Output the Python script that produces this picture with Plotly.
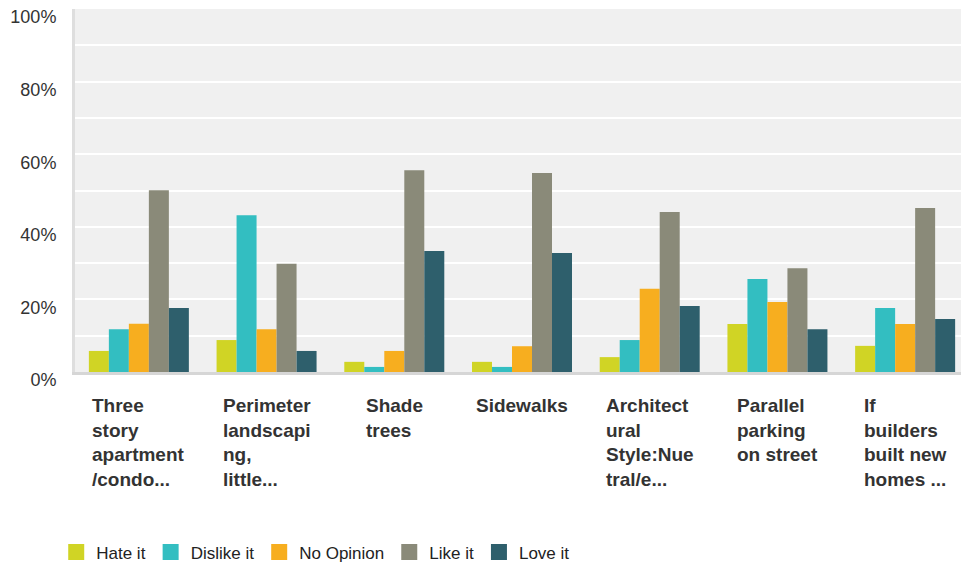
import plotly.graph_objects as go

categories = [
    "Three<br>story<br>apartment<br>/condo...",
    "Perimeter<br>landscapi<br>ng,<br>little...",
    "Shade<br>trees",
    "Sidewalks",
    "Architect<br>ural<br>Style:Nue<br>tral/e...",
    "Parallel<br>parking<br>on street",
    "If<br>builders<br>built new<br>homes ...",
]

series_names = ["Hate it", "Dislike it", "No Opinion", "Like it", "Love it"]
hate_it = [5.8, 8.8, 2.8, 2.8, 4.1, 13.2, 7.2]
dislike_it = [11.8, 43.2, 1.4, 1.4, 8.8, 25.6, 17.6]
no_opinion = [13.3, 11.8, 5.8, 7.1, 22.9, 19.3, 13.2]
like_it = [50.1, 29.8, 55.6, 54.8, 44.1, 28.6, 45.2]
love_it = [17.6, 5.8, 33.3, 32.8, 18.2, 11.8, 14.6]
series_values = [hate_it, dislike_it, no_opinion, like_it, love_it]
colors = ["#D0D425", "#33BEC1", "#F7AE1F", "#8A8A79", "#2E5F6C"]

y_tickvals = [0, 20, 40, 60, 80, 100]
y_ticktext = ["0%", "20%", "40%", "60%", "80%", "100%"]

fig = go.Figure()
for name, vals, col in zip(series_names, series_values, colors):
    fig.add_trace(go.Bar(x=categories, y=vals, name=name, marker_color=col,
                         marker_line_width=0, showlegend=False))
# legend entries
for name, col in zip(series_names, colors):
    fig.add_trace(go.Scatter(x=[None], y=[None], mode="markers", name=name,
                             marker=dict(symbol="square", size=16, color=col)))

for cat in categories:
    fig.add_annotation(x=cat, y=0, xref="x", yref="paper", yanchor="top",
                       xanchor="center", align="left", yshift=-21,
                       text="<b>" + cat + "</b>", showarrow=False,
                       font=dict(family="Liberation Sans, Arial", size=19, color="#333333"))

# page body has an 8px margin: figure is sized/offset to land on the 969x565 window
fig.update_layout(
    width=961, height=557,
    margin=dict(l=67, r=0, t=1, b=193, autoexpand=False),
    paper_bgcolor="white", plot_bgcolor="#F0F0F0",
    barmode="group", bargap=0.217, bargroupgap=0,
    font=dict(family="Liberation Sans, Arial", size=18, color="#333333"),
    legend=dict(orientation="h", x=-0.021, xanchor="left", y=-0.497, yanchor="middle",
                font=dict(size=17, color="#222222"), itemwidth=30,
                bgcolor="rgba(0,0,0,0)"),
)
fig.update_xaxes(showticklabels=False, showgrid=False, showline=True, automargin=False,
                 linecolor="#D6D6D6", linewidth=3, ticks="", fixedrange=True)
fig.update_yaxes(range=[0, 100], tickvals=y_tickvals, ticktext=y_ticktext, automargin=False,
                 showgrid=True, gridcolor="white", gridwidth=2,
                 minor=dict(dtick=10, showgrid=True, gridcolor="white", gridwidth=2),
                 showline=True, linecolor="#DEDEDE", linewidth=3, zeroline=False,
                 ticks="", ticklabelstandoff=12, ticklabelshift=8,
                 ticklabeloverflow="allow",
                 tickfont=dict(size=18, color="#333333"))

fig.write_html("out.html")
